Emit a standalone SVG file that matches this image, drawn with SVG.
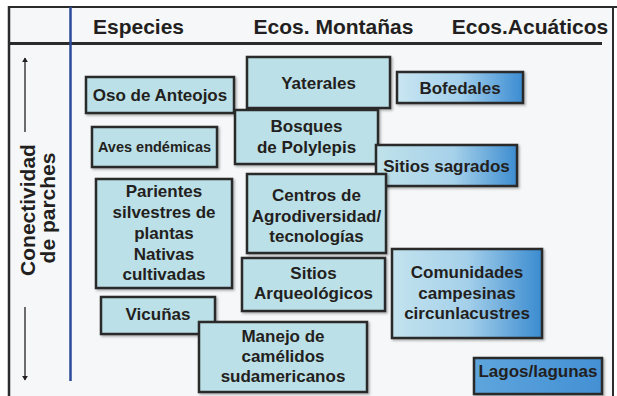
<svg xmlns="http://www.w3.org/2000/svg" width="617" height="396" viewBox="0 0 617 396">
<defs>
<style>
text{font-family:"Liberation Sans",Arial,sans-serif;font-weight:bold;fill:#231f20;text-anchor:middle}
.h{font-size:21px}
.t{font-size:17px}
.s{font-size:14.5px}
.box{stroke:#2b2b2b;stroke-width:2.5;fill:#bce0e7;filter:url(#sh)}
.frame{stroke:#2b2b2b;fill:none}
</style>
<filter id="sh" x="-10%" y="-10%" width="125%" height="130%">
<feDropShadow dx="1.5" dy="1.5" stdDeviation="1" flood-color="#000" flood-opacity="0.3"/>
</filter>
<linearGradient id="gBof" x1="0" y1="0" x2="1" y2="0">
<stop offset="0" stop-color="#c9e6f1"/><stop offset="0.5" stop-color="#a3d0ec"/><stop offset="1" stop-color="#3b8cd2"/>
</linearGradient>
<linearGradient id="gSag" x1="0" y1="0" x2="1" y2="0">
<stop offset="0" stop-color="#c0e2ea"/><stop offset="0.55" stop-color="#a6d1ea"/><stop offset="1" stop-color="#3d8dd0"/>
</linearGradient>
<linearGradient id="gCom" x1="0" y1="0" x2="1" y2="0">
<stop offset="0" stop-color="#c3e3ee"/><stop offset="0.5" stop-color="#a5d0ea"/><stop offset="1" stop-color="#3a8bd0"/>
</linearGradient>
<linearGradient id="gLag" x1="0" y1="0" x2="1" y2="0">
<stop offset="0" stop-color="#5ea5dd"/><stop offset="1" stop-color="#4390d3"/>
</linearGradient>
<marker id="ah" viewBox="0 0 8 10" refX="7" refY="5" markerWidth="5" markerHeight="6" orient="auto" markerUnits="userSpaceOnUse">
<path d="M0,0 L8,5 L0,10 z" fill="#231f20"/>
</marker>
</defs>
<rect x="0" y="0" width="617" height="396" fill="#ffffff"/>
<rect x="9" y="7" width="604" height="389" fill="#f5f7f8"/>
<g id="frame">
<line class="frame" x1="9" y1="7" x2="617" y2="7" stroke-width="2"/>
<line class="frame" x1="9" y1="6" x2="9" y2="396" stroke-width="2.5"/>
<line class="frame" x1="613" y1="6" x2="613" y2="396" stroke-width="2"/>
<line class="frame" x1="9" y1="43.5" x2="602" y2="43.5" stroke-width="3"/>
<line x1="70.5" y1="7" x2="70.5" y2="381" stroke="#2b4a9a" stroke-width="2.5"/>
</g>
<g id="headers">
<text class="h" x="138.5" y="33.5">Especies</text>
<text class="h" x="333.5" y="33.5">Ecos. Montañas</text>
<text class="h" x="530" y="33.5">Ecos.Acuáticos</text>
</g>
<g id="axis">
<text class="h" transform="translate(34.5,210) rotate(-90)" x="0" y="0">Conectividad</text>
<text class="h" transform="translate(55,208) rotate(-90)" x="0" y="0">de parches</text>
</g>
<g id="connectors">
<line x1="25" y1="132" x2="25" y2="58" stroke="#231f20" stroke-width="1.3" marker-end="url(#ah)"/>
<line x1="25" y1="307" x2="25" y2="380" stroke="#231f20" stroke-width="1.3" marker-end="url(#ah)"/>
</g>
<g id="oso">
<rect class="box" x="86" y="77" width="148" height="36"/>
<text class="t" x="160" y="101">Oso de Anteojos</text>
</g>
<g id="aves">
<rect class="box" x="92" y="127" width="125" height="40"/>
<text class="s" x="154.5" y="152">Aves endémicas</text>
</g>
<g id="parientes">
<rect class="box" x="96" y="179" width="136" height="109"/>
<text class="t" x="164" y="197">Parientes</text>
<text class="t" x="164" y="218">silvestres de</text>
<text class="t" x="164" y="238.5">plantas</text>
<text class="t" x="164" y="259.5">Nativas</text>
<text class="t" x="164" y="280">cultivadas</text>
</g>
<g id="vicunas">
<rect class="box" x="101" y="297" width="114" height="37"/>
<text class="t" x="158" y="320">Vicuñas</text>
</g>
<g id="manejo">
<rect class="box" x="199" y="322" width="168" height="70"/>
<text class="t" x="283" y="342">Manejo de</text>
<text class="t" x="283" y="362">camélidos</text>
<text class="t" x="283" y="382">sudamericanos</text>
</g>
<g id="yaterales">
<rect class="box" x="247" y="57" width="143" height="51"/>
<text class="t" x="318.5" y="88.5">Yaterales</text>
</g>
<g id="bofedales">
<rect class="box" x="397" y="72" width="126" height="31" style="fill:url(#gBof)"/>
<text class="t" x="460" y="93.5">Bofedales</text>
</g>
<g id="bosques">
<rect class="box" x="235" y="110" width="143" height="54"/>
<text class="t" x="306.5" y="132">Bosques</text>
<text class="t" x="306.5" y="153">de Polylepis</text>
</g>
<g id="sagrados">
<rect class="box" x="376" y="145" width="141" height="41" style="fill:url(#gSag)"/>
<text class="t" x="446.5" y="172">Sitios sagrados</text>
</g>
<g id="centros">
<rect class="box" x="247" y="174" width="139" height="79"/>
<text class="t" x="316.5" y="201">Centros de</text>
<text class="t" x="316.5" y="221.5">Agrodiversidad/</text>
<text class="t" x="316.5" y="242">tecnologías</text>
</g>
<g id="arqueologicos">
<rect class="box" x="242" y="258" width="143" height="53"/>
<text class="t" x="313.5" y="278.5">Sitios</text>
<text class="t" x="313.5" y="298.5">Arqueológicos</text>
</g>
<g id="comunidades">
<rect class="box" x="392" y="249" width="150" height="89" style="fill:url(#gCom)"/>
<text class="t" x="467" y="278">Comunidades</text>
<text class="t" x="467" y="298.5">campesinas</text>
<text class="t" x="467" y="319">circunlacustres</text>
</g>
<g id="lagos">
<rect class="box" x="474" y="358" width="128" height="36" style="fill:url(#gLag)"/>
<text class="t" x="538" y="377">Lagos/lagunas</text>
</g>
</svg>
